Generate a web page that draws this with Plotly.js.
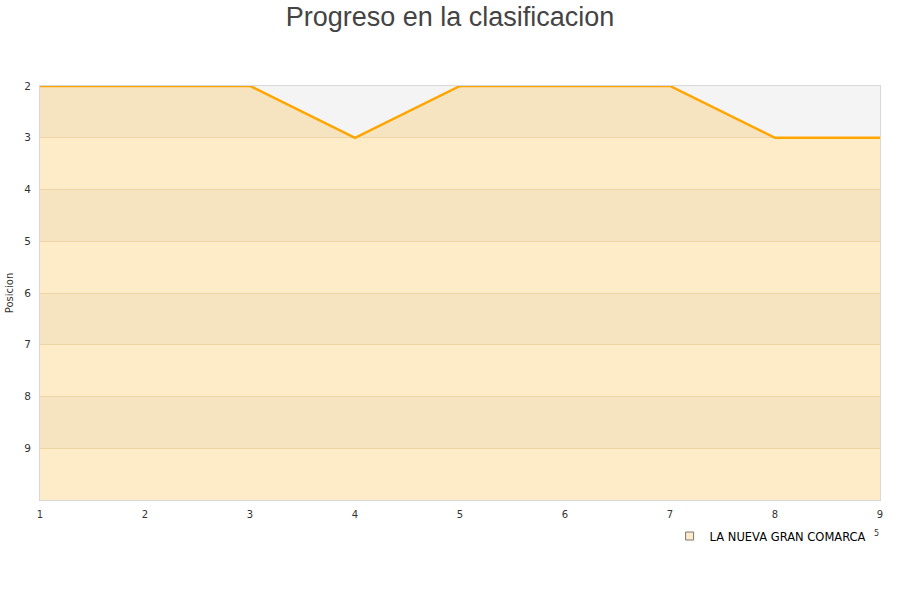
<!DOCTYPE html>
<html><head><meta charset="utf-8">
<script src="https://cdn.plot.ly/plotly-3.0.1.min.js"></script>
<style>body{margin:0;background:#fff}#chart{width:900px;height:600px}</style>
</head><body><div id="chart"></div>
<script>
const jornadas = [1, 2, 3, 4, 5, 6, 7, 8, 9];
const posiciones = [2, 2, 2, 3, 2, 2, 2, 3, 3];
const equipo = "LA NUEVA GRAN COMARCA";
const yTicks = [2, 3, 4, 5, 6, 7, 8, 9];
const fondo = 10;

const bands = [];
for (let v = 2; v < fondo; v += 2) {
  bands.push({type:'rect', xref:'paper', yref:'y', x0:0, x1:1, y0:v, y1:v+1,
    fillcolor:'#f4f4f4', line:{width:0}, layer:'below'});
}

const traces = [
  {x: jornadas, y: jornadas.map(() => fondo), mode:'lines', line:{width:0},
   hoverinfo:'skip', showlegend:false},
  {x: jornadas, y: posiciones, mode:'lines', fill:'tonexty',
   fillcolor:'rgba(251,185,55,0.27)', line:{color:'#ffa500', width:2.5},
   showlegend:false, name: equipo},
  {x:[null], y:[null], mode:'markers', name: equipo,
   marker:{symbol:'square', size:8, color:'#feecc9', line:{color:'#777', width:1}}}
];

const layout = {
  width:900, height:600,
  margin:{l:40, r:20, t:86, b:100},
  paper_bgcolor:'#fff', plot_bgcolor:'#fff',
  title:{text:'Progreso en la clasificacion', x:0.5, xanchor:'center', y:0.973, yanchor:'middle',
    font:{family:'Liberation Sans, Arial, sans-serif', size:27, color:'#444'}},
  xaxis:{range:[1,9], tickvals:jornadas, ticks:'outside', ticklen:5, tickcolor:'rgba(0,0,0,0)',
    showgrid:false, zeroline:false,
    showline:true, mirror:true, linecolor:'#d8d8d8', linewidth:1,
    tickfont:{family:'DejaVu Sans, sans-serif', size:10, color:'#333'}},
  yaxis:{range:[fondo,2], tickvals:yTicks, ticks:'outside', ticklen:6, tickcolor:'rgba(0,0,0,0)',
    showgrid:true, gridcolor:'#e8e0d0',
    zeroline:false, showline:true, mirror:true, linecolor:'#d8d8d8', linewidth:1,
    tickfont:{family:'DejaVu Sans, sans-serif', size:10.5, color:'#333'},
    title:{text:'Posicion', standoff:8, font:{family:'DejaVu Sans, sans-serif', size:10, color:'#333'}}},
  shapes: bands,
  showlegend:true,
  legend:{x:0.99, xanchor:'right', y:-0.087, yanchor:'middle', bgcolor:'rgba(0,0,0,0)',
    font:{family:'DejaVu Sans, sans-serif', size:11.5, color:'#000'}, itemwidth:30},
  annotations:[{text:'5', xref:'paper', yref:'paper', x:0.9955, y:-0.08, xanchor:'center', yanchor:'middle',
    showarrow:false, font:{family:'DejaVu Sans, sans-serif', size:8, color:'#333'}}]
};

Plotly.newPlot('chart', traces, layout, {displayModeBar:false, staticPlot:true});
</script></body></html>
